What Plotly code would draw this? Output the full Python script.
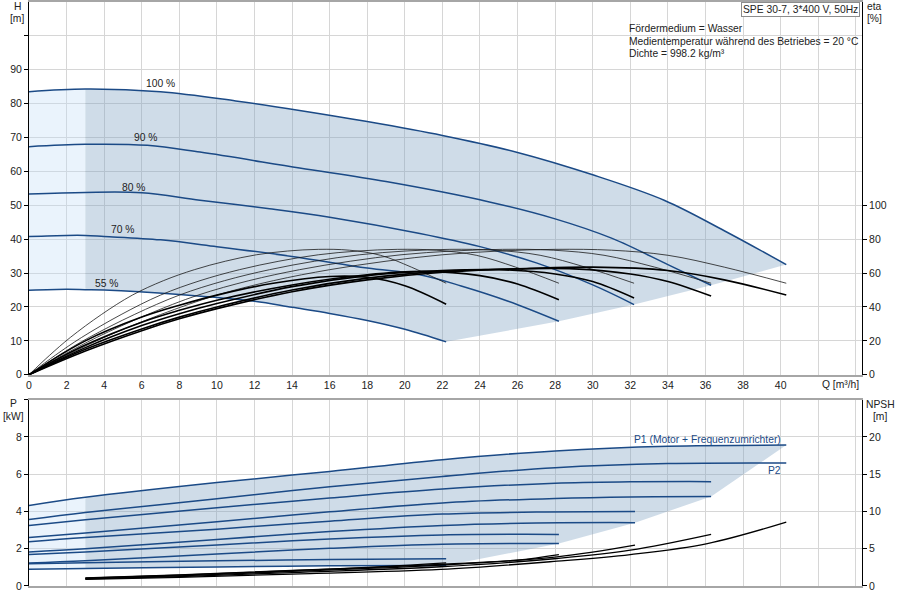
import plotly.graph_objects as go

drehzahlen = ["100 %", "90 %", "80 %", "70 %", "55 %"]

# Förderhöhe H [m]
q_h_100 = [0, 3, 7, 11, 14.4, 18, 22, 26, 30, 33.8, 37, 40.3]
h_100 = [83.5, 84.3, 83.5, 80.8, 78, 74.7, 70.6, 65.6, 59, 51.5, 42.5, 32.5]
q_h_90 = [0, 3, 6.3, 9.1, 14.4, 19, 24.5, 28, 31, 34, 36.3]
h_90 = [67.3, 68.0, 67.7, 65.7, 61, 57, 51, 46, 40.3, 32.5, 26.4]
q_h_80 = [0, 3, 6, 9.1, 12.8, 16, 20.8, 24, 27, 30, 32.2]
h_80 = [53.3, 53.8, 53.7, 51.5, 49, 46.5, 41.7, 37.8, 33, 26.5, 20.7]
q_h_70 = [0, 2, 3, 4, 7, 10, 14, 18, 20.8, 23, 25.5, 28.2]
h_70 = [40.8, 41.1, 41.1, 40.8, 39.8, 37.8, 34.9, 31.5, 29.5, 26.2, 21.7, 15.8]
q_h_55 = [0, 2, 3, 4, 8, 12, 14, 16, 18, 20, 22.2]
h_55 = [24.9, 25.2, 25.1, 25, 23.7, 21.7, 19.9, 18.1, 16, 13.4, 9.7]

# Wirkungsgrad Pumpe (dünn) [%]
q_etap_100 = [0, 2, 4, 7, 10, 13, 16, 19, 22, 25, 28, 31, 34, 37, 40.3]
etap_100 = [0, 11.5, 22, 35.5, 47, 55.5, 62, 67, 70.8, 73, 74, 73.5, 70.5, 63.5, 54]
q_etap_90 = [0, 1.8, 3.6, 6.3, 9, 11.7, 14.4, 17.1, 19.8, 22.5, 25.2, 27.9, 30.6, 33.3, 36.3]
etap_90 = [0, 11.5, 22, 35.5, 47, 55.5, 62, 67, 70.8, 73, 74, 73.5, 70.5, 63.5, 54]
q_etap_80 = [0, 1.6, 3.2, 5.6, 8, 10.4, 12.8, 15.2, 17.6, 20, 22.4, 24.8, 27.2, 29.6, 32.2]
etap_80 = [0, 11.5, 22, 35.5, 47, 55.5, 62, 67, 70.8, 73, 74, 73.5, 70.5, 63.5, 54]
q_etap_70 = [0, 1.4, 2.8, 4.9, 7, 9.1, 11.2, 13.3, 15.4, 17.5, 19.6, 21.7, 23.8, 25.9, 28.2]
etap_70 = [0, 11.5, 22, 35.5, 47, 55.5, 62, 67, 70.8, 73, 74, 73.5, 70.5, 63.5, 54]
q_etap_55 = [0, 1.1, 2.2, 3.85, 5.5, 7.15, 8.8, 10.45, 12.1, 13.75, 15.4, 17.05, 18.7, 20.35, 22.2]
etap_55 = [0, 11.5, 22, 35.5, 47, 55.5, 62, 67, 70.8, 73, 74, 73.5, 70.5, 63.5, 54]

# Wirkungsgrad gesamt (dick) [%]
q_etag_100 = [0, 3, 6, 8, 10, 14, 18, 22, 26, 30, 34, 37, 40.3]
etag_100 = [0, 14, 26, 33, 39, 49, 56, 60.5, 62.5, 63.5, 61.5, 56, 47]
q_etag_90 = [0, 3, 6, 8, 10, 14, 18, 22, 26, 29, 32, 34, 36.3]
etag_90 = [0, 15, 27, 34, 40, 50, 57, 61, 62.5, 62.5, 59.5, 55, 46.4]
q_etag_80 = [0, 3, 6, 8, 10, 14, 18, 22, 25, 28, 30, 32.2]
etag_80 = [0, 16, 29, 36, 42, 52, 58.5, 61.5, 62, 59.5, 55, 45.3]
q_etag_70 = [0, 3, 6, 8, 10, 14, 18, 21, 24, 26, 28.2]
etag_70 = [0, 17.5, 31, 38, 44, 53, 59, 61, 58.5, 53.5, 44.2]
q_etag_55 = [0, 3, 6, 8, 10, 13, 16, 18, 20, 22.2]
etag_55 = [0, 20, 34, 41, 47, 54, 58, 57.5, 52.5, 41.6]

# Leistung P1 / P2 [kW]
q_p_100 = [0, 3, 10, 16, 22, 28, 34, 40.3]
p1_100 = [4.32, 4.76, 5.55, 6.15, 6.78, 7.25, 7.5, 7.56]
p2_100 = [3.57, 3.95, 4.68, 5.33, 5.88, 6.35, 6.57, 6.6]
q_p_90 = [0, 3, 10, 16, 22, 28, 32, 36.3]
p1_90 = [3.25, 3.55, 4.2, 4.72, 5.2, 5.52, 5.59, 5.6]
p2_90 = [2.6, 2.85, 3.45, 3.98, 4.46, 4.7, 4.78, 4.8]
q_p_80 = [0, 3, 10, 16, 22, 27, 32.25]
p1_80 = [2.37, 2.6, 3.05, 3.48, 3.86, 3.97, 4.0]
p2_80 = [1.83, 2.0, 2.5, 2.92, 3.25, 3.38, 3.4]
q_p_70 = [0, 3, 10, 16, 22, 28.2]
p1_70 = [1.69, 1.83, 2.2, 2.52, 2.74, 2.77]
p2_70 = [1.24, 1.36, 1.72, 2.02, 2.24, 2.28]
q_p_55 = [0, 3, 10, 16, 22.2]
p1_55 = [1.2, 1.25, 1.35, 1.42, 1.46]
p2_55 = [0.9, 0.94, 1.02, 1.08, 1.1]

# NPSH [m]
q_npsh_100 = [3, 8, 14, 21.9, 28.1, 32, 36.1, 40.3]
npsh_100 = [0.9, 1.15, 1.6, 2.22, 3.33, 4.22, 5.69, 8.57]
q_npsh_90 = [3, 8, 14, 21.9, 28.1, 32, 36.3]
npsh_90 = [0.95, 1.25, 1.8, 2.58, 3.69, 4.8, 6.93]
q_npsh_80 = [3, 8, 14, 21.9, 28.1, 32.25]
npsh_80 = [1.0, 1.35, 1.95, 2.8, 3.9, 5.47]
q_npsh_70 = [3, 8, 14, 21.9, 25.95, 28.2]
npsh_70 = [1.05, 1.45, 2.05, 2.89, 3.47, 4.22]
q_npsh_55 = [3, 8, 14, 18, 22.2]
npsh_55 = [1.1, 1.5, 2.1, 2.5, 3.1]

q_ticks = list(range(0, 45, 2))
q_ticktext = [str(v) if v <= 40 else "" for v in q_ticks]

BLAU = "#1b4a86"
FLAECHE = "rgba(121,158,192,0.36)"
FLAECHE_HELL = "rgba(196,222,245,0.35)"
GRID = "#d6d6d6"
SCHRIFT = dict(family="Liberation Sans, Arial, sans-serif", size=10.5, color="#222")
TEXT_GR = 10.3

h_kurven = [(q_h_100, h_100), (q_h_90, h_90), (q_h_80, h_80), (q_h_70, h_70), (q_h_55, h_55)]
etap_kurven = [(q_etap_100, etap_100), (q_etap_90, etap_90), (q_etap_80, etap_80),
               (q_etap_70, etap_70), (q_etap_55, etap_55)]
etag_kurven = [(q_etag_100, etag_100), (q_etag_90, etag_90), (q_etag_80, etag_80),
               (q_etag_70, etag_70), (q_etag_55, etag_55)]
p_kurven = [(q_p_100, p1_100, p2_100), (q_p_90, p1_90, p2_90), (q_p_80, p1_80, p2_80),
            (q_p_70, p1_70, p2_70), (q_p_55, p1_55, p2_55)]
npsh_kurven = [(q_npsh_100, npsh_100), (q_npsh_90, npsh_90), (q_npsh_80, npsh_80),
               (q_npsh_70, npsh_70), (q_npsh_55, npsh_55)]


def ab(q, v, q0=3):
    return [a for a in q if a >= q0], [b for a, b in zip(q, v) if a >= q0]


def bis(q, v, q0=3):
    return [a for a in q if a <= q0], [b for a, b in zip(q, v) if a <= q0]


def px_x(px):
    return (px - 29) / 833


def px_y(py):
    return (586 - py) / 586


fig = go.Figure()


def flaeche(unten, oben, farbe, xa, ya):
    fig.add_trace(go.Scatter(x=unten[0], y=unten[1], mode="lines", line=dict(width=0),
                             xaxis=xa, yaxis=ya, hoverinfo="skip", showlegend=False))
    fig.add_trace(go.Scatter(x=oben[0], y=oben[1], mode="lines", line=dict(width=0, shape="spline"),
                             fill="tonexty", fillcolor=farbe,
                             xaxis=xa, yaxis=ya, hoverinfo="skip", showlegend=False))


# Flächen oben (H)
flaeche(bis(q_h_55, h_55), bis(q_h_100, h_100), FLAECHE_HELL, "x", "y")
qu, hu = ab(q_h_55, h_55)
for q, h in h_kurven[3::-1]:
    qu = qu + [q[-1]]
    hu = hu + [h[-1]]
flaeche((qu, hu), ab(q_h_100, h_100), FLAECHE, "x", "y")

# Flächen unten (P)
flaeche(bis(q_p_55, p2_55), bis(q_p_100, p1_100), FLAECHE_HELL, "x2", "y3")
qu, pu = ab(q_p_55, p2_55)
for q, p1, p2 in p_kurven[3:0:-1]:
    qu = qu + [q[-1]]
    pu = pu + [p2[-1]]
qu = qu + [q_p_100[-1]]
pu = pu + [p1_100[-1]]
flaeche((qu, pu), ab(q_p_100, p1_100), FLAECHE, "x2", "y3")

# Wirkungsgrade
for q, e in etap_kurven:
    fig.add_trace(go.Scatter(x=q, y=e, mode="lines", line=dict(color="#1a1a1a", width=0.8, shape="spline"),
                             xaxis="x", yaxis="y2", showlegend=False))
for q, e in etag_kurven:
    fig.add_trace(go.Scatter(x=q, y=e, mode="lines", line=dict(color="#000", width=1.6, shape="spline"),
                             xaxis="x", yaxis="y2", showlegend=False))

# QH-Kurven
for q, h in h_kurven:
    fig.add_trace(go.Scatter(x=q, y=h, mode="lines", line=dict(color=BLAU, width=1.5, shape="spline"),
                             xaxis="x", yaxis="y", showlegend=False))

# Leistung
for q, p1, p2 in p_kurven:
    fig.add_trace(go.Scatter(x=q, y=p1, mode="lines", line=dict(color=BLAU, width=1.5, shape="spline"),
                             xaxis="x2", yaxis="y3", showlegend=False))
    fig.add_trace(go.Scatter(x=q, y=p2, mode="lines", line=dict(color=BLAU, width=1.5, shape="spline"),
                             xaxis="x2", yaxis="y3", showlegend=False))

# NPSH
for q, n in npsh_kurven:
    fig.add_trace(go.Scatter(x=q, y=n, mode="lines", line=dict(color="#000", width=1.3, shape="spline"),
                             xaxis="x2", yaxis="y4", showlegend=False))

# Beschriftungen
anno = []
label_pos = [(7.0, 85.9), (6.2, 70.0), (5.55, 55.4), (5.0, 42.9), (4.1, 27.0)]
for txt, (x, y) in zip(drehzahlen, label_pos):
    anno.append(dict(x=x, y=y, xref="x", yref="y", text=txt, showarrow=False,
                     font=dict(size=TEXT_GR)))

for txt, x, y in [("H", 17, 5), ("[m]", 17, 17), ("eta", 875, 5), ("[%]", 875, 17),
                  ("P", 13, 403), ("[kW]", 13, 416), ("NPSH", 880, 404), ("[m]", 880, 416),
                  ("Q [m³/h]", 840, 384)]:
    anno.append(dict(x=px_x(x), y=px_y(y), xref="paper", yref="paper", text=txt, showarrow=False,
                     xanchor="center", yanchor="middle", font=dict(size=TEXT_GR)))

for txt, y in [("Fördermedium = Wasser", 27), ("Medientemperatur während des Betriebes = 20 °C", 40),
               ("Dichte = 998.2 kg/m³", 52)]:
    anno.append(dict(x=px_x(627), y=px_y(y), xref="paper", yref="paper", text=txt,
                     xanchor="left", yanchor="middle", showarrow=False, font=dict(size=TEXT_GR)))

anno.append(dict(x=px_x(860), y=px_y(0), xref="paper", yref="paper", text="SPE 30-7, 3*400 V, 50Hz",
                 xanchor="right", yanchor="top", showarrow=False, bgcolor="white",
                 bordercolor="#8c8c8c", borderwidth=1, borderpad=1, font=dict(size=TEXT_GR)))
anno.append(dict(x=40.15, y=7.84, xref="x2", yref="y3", text="P1 (Motor + Frequenzumrichter)",
                 xanchor="right", showarrow=False, font=dict(color=BLAU, size=TEXT_GR)))
anno.append(dict(x=40.15, y=6.22, xref="x2", yref="y3", text="P2",
                 xanchor="right", showarrow=False, font=dict(color=BLAU, size=TEXT_GR)))

achse_y = dict(showline=True, linecolor="#000", linewidth=1, ticks="outside", ticklen=4,
               tickcolor="#000", zeroline=False)

fig.update_layout(
    width=900, height=600,
    margin=dict(l=29, r=38, t=0, b=14),
    paper_bgcolor="white", plot_bgcolor="white",
    font=SCHRIFT,
    showlegend=False,
    annotations=anno,
    shapes=[dict(type="rect", xref="paper", yref="paper", x0=px_x(625), x1=px_x(861),
                 y0=px_y(59), y1=1, fillcolor="white", line=dict(width=0), layer="between")],
    xaxis=dict(domain=[0, 1], range=[0, 44.33], anchor="y", tickvals=q_ticks, ticktext=q_ticktext,
               showgrid=True, gridcolor=GRID, showline=True, linecolor="#a6a6a6", linewidth=2,
               mirror=True, zeroline=False, ticks=""),
    yaxis=dict(domain=[px_y(374), 1], range=[0, 110], tickvals=list(range(0, 101, 10)),
               ticktext=[str(v) for v in range(0, 91, 10)] + [""],
               showgrid=True, gridcolor=GRID, anchor="x", **achse_y),
    yaxis2=dict(overlaying="y", side="right", range=[0, 220], tickvals=list(range(0, 101, 20)),
                showgrid=False, anchor="x", **achse_y),
    xaxis2=dict(domain=[0, 1], range=[0, 44.33], anchor="y3", tickvals=q_ticks, showticklabels=False,
                showgrid=True, gridcolor=GRID, showline=True, linecolor="#a6a6a6", linewidth=2,
                mirror=True, zeroline=False, ticks=""),
    yaxis3=dict(domain=[0, px_y(399)], range=[0, 10], tickvals=[0, 2, 4, 6, 8, 10],
                ticktext=["0", "2", "4", "6", "8", ""],
                showgrid=True, gridcolor=GRID, anchor="x2", **achse_y),
    yaxis4=dict(overlaying="y3", side="right", range=[0, 25], tickvals=[0, 5, 10, 15, 20],
                showgrid=False, anchor="x2", **achse_y),
)

# Browser-Rand entfernen, damit die Pixelpositionen stimmen
fig.write_html("out.html", config={"displayModeBar": False},
               post_script="document.body.style.margin='0';")
